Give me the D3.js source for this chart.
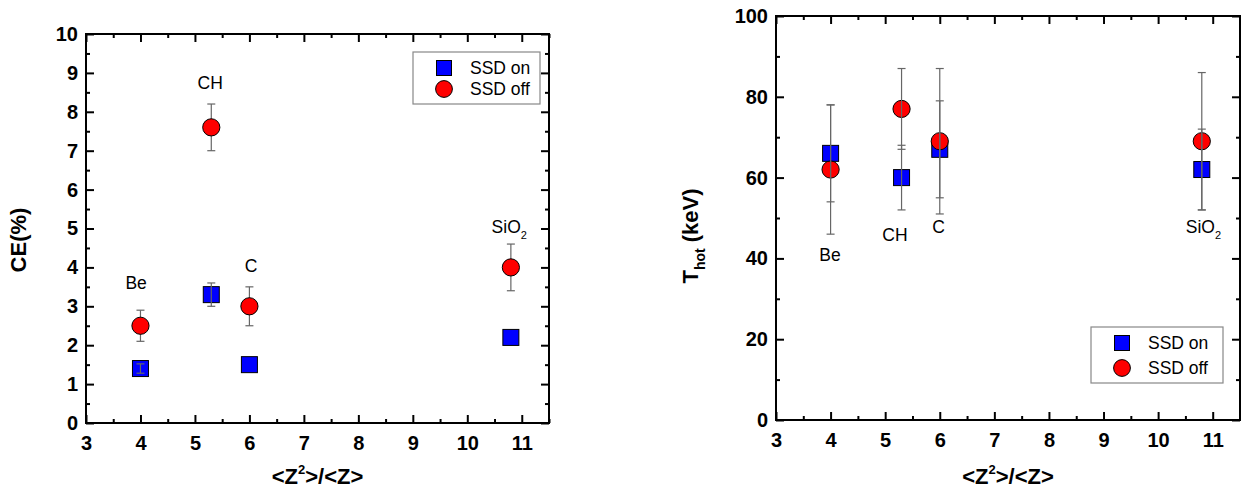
<!DOCTYPE html>
<html>
<head>
<meta charset="utf-8">
<script src="https://cdn.jsdelivr.net/npm/d3@7"></script>
<style>
  html, body { margin: 0; padding: 0; background: #fff; }
  svg { display: block; font-family: "Liberation Sans", Arial, sans-serif; }
</style>
</head>
<body>
<svg id="chart" width="1241" height="499"></svg>
<script>
// ---------------- data ----------------
const materials = ["Be", "CH", "C", "SiO"];
const materialSub = ["", "", "", "2"];
const zRatio = [4, 5.3, 6, 10.8];

// Left panel: conversion efficiency CE(%)
const ceOn = [1.4, 3.3, 1.5, 2.2];
const ceOnErr = [0.12, 0.3, 0, 0];
const ceOff = [2.5, 7.6, 3.0, 4.0];
const ceOffErr = [0.4, 0.6, 0.5, 0.6];
const ceLabelX = [3.92, 5.28, 6.03, 10.77];
const ceLabelY = [3.44, 8.59, 3.88, 4.88];

// Right panel: hot electron temperature (keV)
const tOn = [66, 60, 67, 62];
const tOnErr = [12, 8, 12, 10];
const tOff = [62, 77, 69, 69];
const tOffErr = [16, 10, 18, 17];
const tLabelX = [3.99, 5.18, 5.98, 10.83];
const tLabelY = [39.4, 44.3, 46.4, 46.3];

const xTicks = [3, 4, 5, 6, 7, 8, 9, 10, 11];
const xMinor = [3.5, 4.5, 5.5, 6.5, 7.5, 8.5, 9.5, 10.5, 11.5];
const ceTicks = [0, 1, 2, 3, 4, 5, 6, 7, 8, 9, 10];
const ceMinor = [0.5, 1.5, 2.5, 3.5, 4.5, 5.5, 6.5, 7.5, 8.5, 9.5];
const tTicks = [0, 20, 40, 60, 80, 100];
const tMinor = [10, 30, 50, 70, 90];

const seriesNames = ["SSD on", "SSD off"];
// --------------------------------------

const svg = d3.select("#chart");
const BLUE = "#0000ff", RED = "#ff0000", ERR = "#666";

function drawPanel(cfg) {
  const x = d3.scaleLinear().domain([3, 11.5]).range([cfg.left, cfg.right]);
  const y = d3.scaleLinear().domain(cfg.yDomain).range([cfg.bottom, cfg.top]);
  const g = svg.append("g");

  // axes
  const tickStyle = sel => {
    sel.select(".domain").remove();
    sel.selectAll(".tick line").attr("stroke", "#000").attr("stroke-width", 2);
    sel.selectAll(".tick text").attr("fill", "#000")
      .style("font-size", "20px").style("font-weight", "bold");
  };
  g.append("g").attr("transform", `translate(0,${cfg.bottom})`)
    .call(d3.axisBottom(x).tickValues(xTicks).tickFormat(d3.format("d")).tickSize(-8).tickPadding(12.5))
    .call(tickStyle);
  g.append("g").attr("transform", `translate(0,${cfg.bottom})`)
    .call(d3.axisBottom(x).tickValues(xMinor).tickFormat("").tickSize(-4)).call(tickStyle);
  g.append("g").attr("transform", `translate(0,${cfg.top})`)
    .call(d3.axisTop(x).tickValues(xTicks).tickFormat("").tickSize(-8)).call(tickStyle);
  g.append("g").attr("transform", `translate(0,${cfg.top})`)
    .call(d3.axisTop(x).tickValues(xMinor).tickFormat("").tickSize(-4)).call(tickStyle);
  g.append("g").attr("transform", `translate(${cfg.left},0)`)
    .call(d3.axisLeft(y).tickValues(cfg.yTicks).tickFormat(d3.format("d")).tickSize(-8).tickPadding(8))
    .call(tickStyle);
  g.append("g").attr("transform", `translate(${cfg.left},0)`)
    .call(d3.axisLeft(y).tickValues(cfg.yMinor).tickFormat("").tickSize(-4)).call(tickStyle);
  g.append("g").attr("transform", `translate(${cfg.right},0)`)
    .call(d3.axisRight(y).tickValues(cfg.yTicks).tickFormat("").tickSize(-8)).call(tickStyle);
  g.append("g").attr("transform", `translate(${cfg.right},0)`)
    .call(d3.axisRight(y).tickValues(cfg.yMinor).tickFormat("").tickSize(-4)).call(tickStyle);

  // frame
  g.append("rect").attr("x", cfg.left).attr("y", cfg.top)
    .attr("width", cfg.right - cfg.left).attr("height", cfg.bottom - cfg.top)
    .attr("fill", "none").attr("stroke", "#000").attr("stroke-width", 2);

  const errBars = (vals, errs) => {
    const eg = g.append("g").attr("stroke", ERR).attr("stroke-width", 1.2).attr("fill", "none");
    zRatio.forEach((zv, i) => {
      if (!errs[i]) return;
      const cx = x(zv), y1 = y(vals[i] - errs[i]), y2 = y(vals[i] + errs[i]);
      eg.append("line").attr("x1", cx).attr("x2", cx).attr("y1", y1).attr("y2", y2);
      eg.append("line").attr("x1", cx - 4).attr("x2", cx + 4).attr("y1", y1).attr("y2", y1);
      eg.append("line").attr("x1", cx - 4).attr("x2", cx + 4).attr("y1", y2).attr("y2", y2);
    });
  };
  const squares = vals => g.append("g").selectAll("rect").data(vals).join("rect")
    .attr("x", (d, i) => x(zRatio[i]) - 8).attr("y", d => y(d) - 8)
    .attr("width", 16).attr("height", 16)
    .attr("fill", BLUE).attr("stroke", "#000").attr("stroke-width", 1);
  const circles = vals => g.append("g").selectAll("circle").data(vals).join("circle")
    .attr("cx", (d, i) => x(zRatio[i])).attr("cy", d => y(d)).attr("r", 8.6)
    .attr("fill", RED).attr("stroke", "#000").attr("stroke-width", 1);

  if (cfg.barsOnTop) {
    squares(cfg.on); circles(cfg.off);
    errBars(cfg.on, cfg.onErr); errBars(cfg.off, cfg.offErr);
  } else {
    squares(cfg.on); errBars(cfg.on, cfg.onErr);
    errBars(cfg.off, cfg.offErr); circles(cfg.off);
  }

  // material labels
  materials.forEach((m, i) => {
    const t = g.append("text").attr("x", x(cfg.labelX[i])).attr("y", y(cfg.labelY[i]))
      .attr("text-anchor", "middle").style("font-size", "17.5px").attr("fill", "#000");
    t.append("tspan").text(m);
    if (materialSub[i]) t.append("tspan").attr("dy", 6).style("font-size", "11px").text(materialSub[i]);
  });

  // legend
  const lg = g.append("g").attr("transform", `translate(${cfg.legX},${cfg.legY})`);
  lg.append("rect").attr("width", cfg.legW).attr("height", cfg.legH)
    .attr("fill", "#fff").attr("stroke", "#888").attr("stroke-width", 1.2);
  const rows = [16, cfg.legH - 15];
  lg.append("rect").attr("x", 31 - 7.5).attr("y", rows[0] - 7.5).attr("width", 15).attr("height", 15)
    .attr("fill", BLUE).attr("stroke", "#000");
  lg.append("circle").attr("cx", 31).attr("cy", rows[1]).attr("r", 8.4)
    .attr("fill", RED).attr("stroke", "#000");
  seriesNames.forEach((s, i) => lg.append("text").attr("x", 57).attr("y", rows[i]).attr("dy", "0.35em")
    .style("font-size", "17.5px").attr("fill", "#000").text(s));

  // axis titles
  const xt = g.append("text").attr("x", (cfg.left + cfg.right) / 2).attr("y", cfg.xTitleY)
    .attr("text-anchor", "middle").style("font-size", "22px").style("font-weight", "bold");
  xt.append("tspan").text("<Z");
  xt.append("tspan").attr("dy", -10).style("font-size", "13px").text("2");
  xt.append("tspan").attr("dy", 10).text(">/<Z>");

  const yt = g.append("text").attr("transform", `translate(${cfg.yTitleX},${cfg.yTitleY}) rotate(-90)`)
    .attr("text-anchor", "middle").style("font-size", "22px").style("font-weight", "bold");
  yt.append("tspan").text(cfg.yTitle);
  if (cfg.yTitleSub) {
    yt.append("tspan").attr("dy", 7).style("font-size", "14px").text(cfg.yTitleSub);
    yt.append("tspan").attr("dy", -7).text(cfg.yTitleRest);
  }
}

drawPanel({
  left: 86, right: 549, top: 34, bottom: 423,
  yDomain: [0, 10], yTicks: ceTicks, yMinor: ceMinor,
  on: ceOn, onErr: ceOnErr, off: ceOff, offErr: ceOffErr,
  labelX: ceLabelX, labelY: ceLabelY, barsOnTop: false,
  legX: 413, legY: 52, legW: 127, legH: 52,
  xTitleY: 484, yTitleX: 26, yTitleY: 240, yTitle: "CE(%)"
});

drawPanel({
  left: 776, right: 1240, top: 16, bottom: 420,
  yDomain: [0, 100], yTicks: tTicks, yMinor: tMinor,
  on: tOn, onErr: tOnErr, off: tOff, offErr: tOffErr,
  labelX: tLabelX, labelY: tLabelY, barsOnTop: true,
  legX: 1091, legY: 327, legW: 132, legH: 56,
  xTitleY: 484, yTitleX: 698, yTitleY: 236, yTitle: "T", yTitleSub: "hot", yTitleRest: " (keV)"
});
</script>
</body>
</html>
